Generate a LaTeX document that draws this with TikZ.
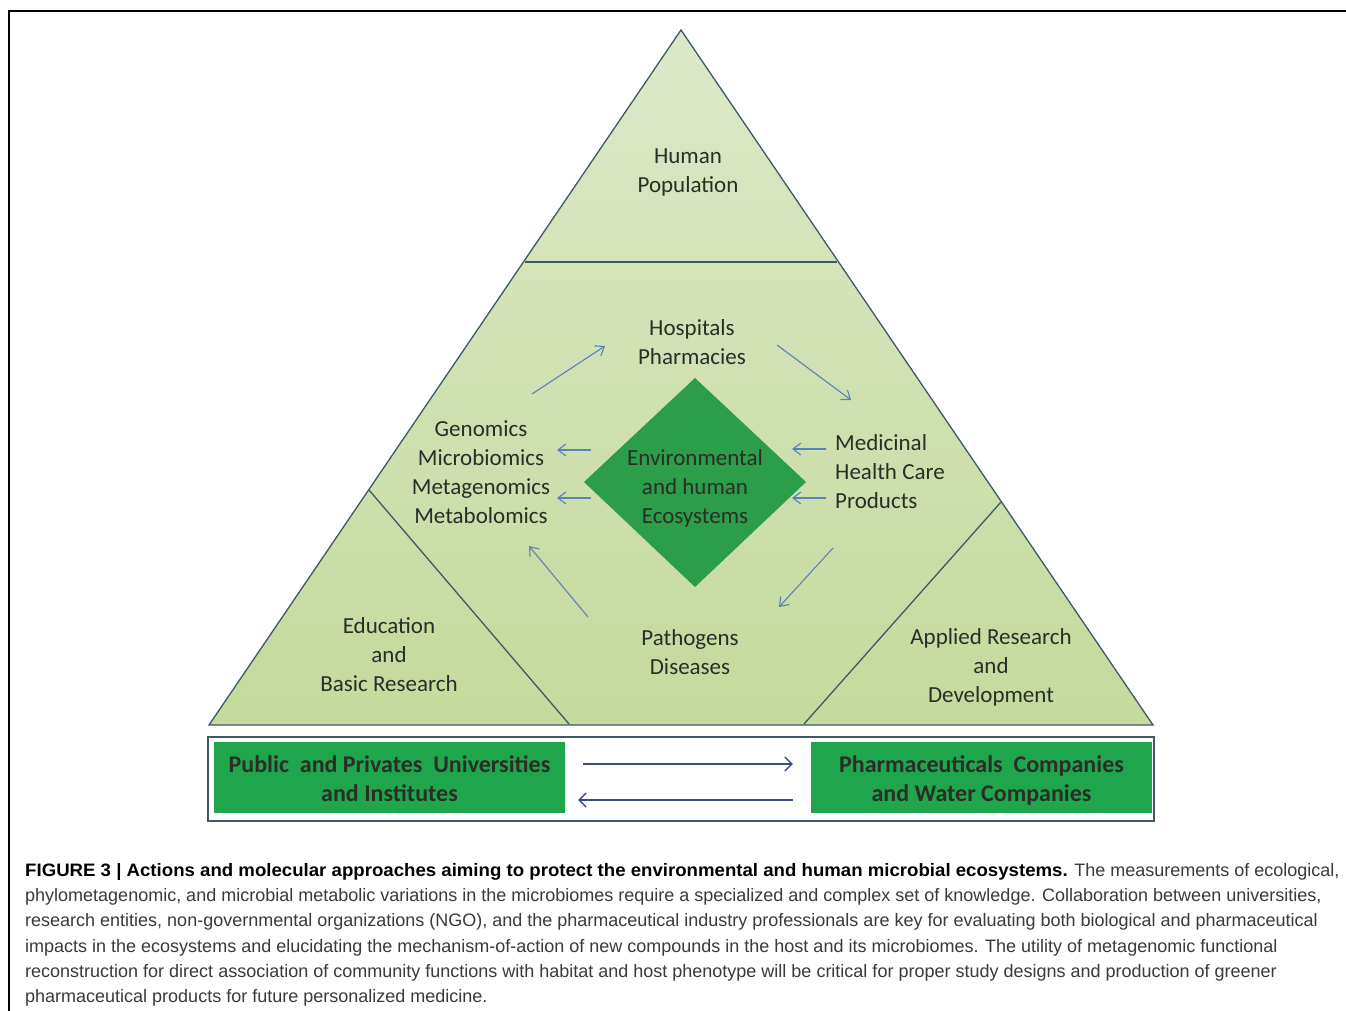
\documentclass[tikz,border=0pt]{standalone}
\usepackage{fontspec}
\setmainfont{Liberation Sans}
\newfontfamily\calib{Carlito}
\newfontfamily\capfont{Liberation Sans}
\newfontfamily\capbold[FakeStretch=1.035]{Liberation Sans}
\usetikzlibrary{arrows.meta}
\definecolor{linec}{HTML}{3F5866}
\definecolor{arrc}{HTML}{5B82B5}
\definecolor{diamc}{HTML}{2C9D48}
\definecolor{boxg}{HTML}{1FA64C}
\definecolor{barc}{HTML}{3B4C85}
\definecolor{txt}{HTML}{2A2E26}
\definecolor{captxt}{HTML}{3A3A3A}
\definecolor{trtop}{HTML}{DCE8C8}
\definecolor{trbot}{HTML}{C5DA9C}
\begin{document}
\begin{tikzpicture}[x=1pt,y=-1pt,
  tri/.style={draw=linec, line width=1.3pt},
  lbl/.style={font=\calib\fontsize{23}{29}\selectfont, text=txt, align=center, inner sep=0pt},
  flow/.style={draw=arrc, line width=1.1pt, -{Straight Barb[length=8pt,width=12pt]}},
  gbox/.style={fill=boxg, inner sep=0pt, font=\calib\bfseries\fontsize{24}{29}\selectfont, text=txt, align=center},
  barr/.style={draw=barc, line width=1.4pt, -{Straight Barb[length=7pt,width=14pt]}},
  capl/.style={anchor=base west, inner sep=0pt, font=\capfont\fontsize{18}{25}\selectfont, text=captxt}
]
\useasboundingbox (0,0) rectangle (1346,1011);
\fill[white] (0,0) rectangle (1346,1011);
\draw[line width=2.5pt] (9,1011) -- (9,11) -- (1346,11);

% triangle
\coordinate (A) at (681,30);
\coordinate (B) at (209,725);
\coordinate (C) at (1153,725);
\shade[top color=trtop, bottom color=trbot] (A) -- (B) -- (C) -- cycle;
\draw[tri] (A) -- (B) -- (C) -- cycle;
\draw[tri] (525,262) -- (837,262);
\draw[tri] (369,490) -- (569,724);
\draw[tri] (1001,502) -- (804,724);

% diamond
\fill[diamc] (695,378) -- (806,482) -- (695,587) -- (584,482) -- cycle;

% labels
\node[lbl] (hum) at (688,172) {Human\\Population};
\node[lbl] (hosp) at (692,342) {Hospitals\\Pharmacies};
\node[lbl] (gen) at (481,472) {Genomics\\Microbiomics\\Metagenomics\\Metabolomics};
\node[lbl] (eco) at (695,488) {Environmental\\and human\\Ecosystems};
\node[lbl, anchor=west, align=left] (med) at (835,472) {Medicinal\\Health Care\\Products};
\node[lbl] (path) at (690,652) {Pathogens\\Diseases};
\node[lbl] (edu) at (389,655) {Education\\and\\Basic Research};
\node[lbl] (app) at (991,667) {Applied Research\\and\\Development};

% flow arrows
\coordinate (f1s) at (532,394); \coordinate (f1e) at (605,346);
\coordinate (f2s) at (777,345); \coordinate (f2e) at (851,400);
\coordinate (f3s) at (591,450); \coordinate (f3e) at (557,450);
\coordinate (f4s) at (591,498); \coordinate (f4e) at (557,498);
\coordinate (f5s) at (826,449); \coordinate (f5e) at (792,449);
\coordinate (f6s) at (826,498); \coordinate (f6e) at (792,498);
\coordinate (f7s) at (833,548); \coordinate (f7e) at (779,607);
\coordinate (f8s) at (588,617); \coordinate (f8e) at (529,546);
\foreach \i in {1,...,8} \draw[flow] (f\i s) -- (f\i e);

% bottom band
\node[draw=linec, line width=1.2pt, minimum width=946pt, minimum height=84pt, inner sep=0pt] (band) at (681,779) {};
\node[gbox, minimum width=351pt, minimum height=71pt] (uni) at (389.5,777.5) {\rule{0pt}{28pt}Public\ \ and Privates\ \ Universities\\and Institutes\strut};
\node[gbox, minimum width=341pt, minimum height=71pt] (pha) at (981.5,777.5) {\rule{0pt}{28pt}Pharmaceuticals\ \ Companies\\and Water Companies\strut};
\draw[barr, shorten <=18pt, shorten >=18pt] ([yshift=13.5pt]uni.east) -- ([yshift=13.5pt]pha.west);
\draw[barr, shorten <=18pt, shorten >=13pt] ([yshift=-22.5pt]pha.west) -- ([yshift=-22.5pt]uni.east);

% caption
\node[capl] (c1) at (25,876) {\textcolor{black}{\capbold\bfseries FIGURE 3 | Actions and molecular approaches aiming to protect the environmental and human microbial ecosystems.} The measurements of ecological,};
\node[capl] (c2) at (25,901) {phylometagenomic, and microbial metabolic variations in the microbiomes require a specialized and complex set of knowledge. Collaboration between universities,};
\node[capl] (c3) at (25,926) {research entities, non-governmental organizations (NGO), and the pharmaceutical industry professionals are key for evaluating both biological and pharmaceutical};
\node[capl] (c4) at (25,952) {impacts in the ecosystems and elucidating the mechanism-of-action of new compounds in the host and its microbiomes. The utility of metagenomic functional};
\node[capl] (c5) at (25,977) {reconstruction for direct association of community functions with habitat and host phenotype will be critical for proper study designs and production of greener};
\node[capl] (c6) at (25,1002) {pharmaceutical products for future personalized medicine.};
\end{tikzpicture}
\end{document}
